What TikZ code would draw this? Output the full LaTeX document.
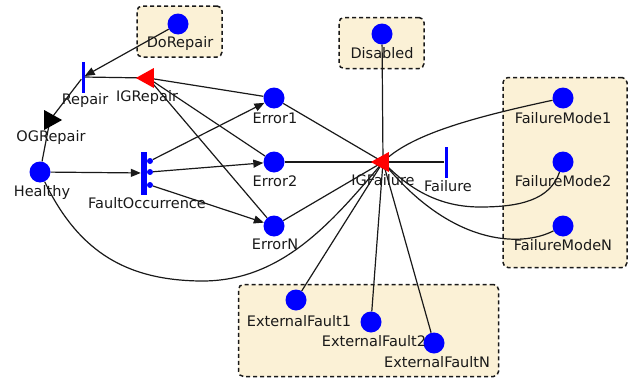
\documentclass[tikz,border=0pt]{standalone}
\usepackage{fontspec}
\setmainfont{DejaVu Sans}
\usetikzlibrary{shapes.geometric,arrows.meta}
\pgfdeclarelayer{boxes}
\pgfdeclarelayer{edges}
\pgfsetlayers{boxes,edges,main}
\definecolor{cream}{HTML}{FBF1D6}
\tikzset{
  place/.style={circle, fill=blue, inner sep=0pt, minimum size=21pt},
  dot/.style={circle, fill=blue, inner sep=0pt, minimum size=6pt},
  bar/.style={rectangle, fill=blue, inner sep=0pt, minimum width=3pt, minimum height=31pt},
  gate/.style={isosceles triangle, isosceles triangle stretches, inner sep=0pt, minimum width=20pt, minimum height=18pt},
  lbl/.style={inner sep=0pt, font=\fontsize{14.5}{16}\selectfont, text=black!90},
  grp/.style={draw=black!90, dash pattern=on 4pt off 3pt, line width=1.5pt, rounded corners=5pt, fill=cream, inner sep=0pt},
  edge/.style={draw=black!90, line width=1.2pt},
  arr/.style={edge, -{Triangle[length=10pt,width=8pt]}},
}
\begin{document}
\begin{tikzpicture}[x=1pt,y=-1pt]
\useasboundingbox (0,0) rectangle (632,380);
% groups
\begin{pgfonlayer}{boxes}
\node[grp, minimum width=85pt, minimum height=51pt] (DoRepairBox) at (179.5,31.5) {};
\node[grp, minimum width=85pt, minimum height=51pt] (DisabledBox) at (381.5,43) {};
\node[grp, minimum width=124pt, minimum height=190pt] (FMBox) at (565,172.5) {};
\node[grp, minimum width=260pt, minimum height=92pt] (EFBox) at (368.5,330.5) {};
\end{pgfonlayer}
% places
\node[place] (DoRepair) at (178,24) {};
\node[place] (Healthy) at (40,172) {};
\node[place] (Error1) at (274,98) {};
\node[place] (Error2) at (274,162) {};
\node[place] (ErrorN) at (274,226) {};
\node[place] (Disabled) at (382,34) {};
\node[place] (FM1) at (563,98) {};
\node[place] (FM2) at (563,162) {};
\node[place] (FMN) at (563,226) {};
\node[place] (EF1) at (296,300) {};
\node[place] (EF2) at (371,322) {};
\node[place] (EFN) at (434,343) {};
% transitions
\node[bar] (Repair) at (83,77) {};
\node[bar] (Failure) at (446,162) {};
\node[bar, minimum width=6pt, minimum height=43pt] (FaultOcc) at (144,173) {};
\node[dot] (d1) at (150,161) {};
\node[dot] (d2) at (150,172) {};
\node[dot] (d3) at (150,185) {};
% gates
\node[gate, fill=red, shape border rotate=180] (IGRepair) at (148,78) {};
\node[gate, fill=black, shape border rotate=0] (OGRepair) at (50,120) {};
\node[gate, fill=red, shape border rotate=180] (IGFailure) at (383,162) {};
% labels
\node[lbl] (DoRepair-l) at (180,43) {DoRepair};
\node[lbl] (Repair-l) at (85,100) {Repair};
\node[lbl] (IGRepair-l) at (147,97) {IGRepair};
\node[lbl] (OGRepair-l) at (51,137) {OGRepair};
\node[lbl] (Healthy-l) at (42,192) {Healthy};
\node[lbl] (FaultOcc-l) at (147,203) {FaultOccurrence};
\node[lbl] (Error1-l) at (275,118) {Error1};
\node[lbl] (Error2-l) at (275,181) {Error2};
\node[lbl] (ErrorN-l) at (275,244) {ErrorN};
\node[lbl] (Disabled-l) at (382,53) {Disabled};
\node[lbl] (IGFailure-l) at (383,180) {IGFailure};
\node[lbl] (Failure-l) at (448,186) {Failure};
\node[lbl] (FM1-l) at (563,118) {FailureMode1};
\node[lbl] (FM2-l) at (563,181) {FailureMode2};
\node[lbl] (FMN-l) at (563,245) {FailureModeN};
\node[lbl] (EF1-l) at (299,321) {ExternalFault1};
\node[lbl] (EF2-l) at (374,341) {ExternalFault2};
\node[lbl] (EFN-l) at (437,362) {ExternalFaultN};
% edges
\begin{pgfonlayer}{edges}
\draw[arr] (DoRepair) -- (Repair);
\draw[edge] (IGRepair.center) -- (Repair);
\draw[edge] (Healthy) -- (OGRepair.center) -- (Repair);
\draw[arr] (Healthy) -- (FaultOcc);
\draw[arr] (d1) -- (Error1);
\draw[arr] (d2) -- (Error2);
\draw[arr] (d3) -- (ErrorN);
\draw[edge] (IGRepair.center) -- (Error1);
\draw[edge] (IGRepair.center) -- (Error2);
\draw[edge] (IGRepair.center) -- (ErrorN);
\draw[edge] (Error1) -- (IGFailure.center);
\draw[edge] (Error2) -- (IGFailure.center);
\draw[edge] (ErrorN) -- (IGFailure.center);
\draw[edge] (Disabled) -- (IGFailure.center);
\draw[edge] (IGFailure.center) -- (Failure);
\draw[edge] (EF1) -- (IGFailure.center);
\draw[edge] (EF2) -- (IGFailure.center);
\draw[edge] (EFN) -- (IGFailure.center);
\draw[edge] (FM1) .. controls (470,118) and (410,135) .. (IGFailure.center);
\draw[edge] (FM2) .. controls (550,200) and (520,207) .. (480,207) .. controls (440,207) and (410,190) .. (IGFailure.center);
\draw[edge] (FMN) .. controls (520,248) and (450,245) .. (IGFailure.center);
\draw[edge] (Healthy) .. controls (80,255) and (130,280) .. (200,281) .. controls (280,282) and (330,225) .. (IGFailure.center);
\end{pgfonlayer}
\end{tikzpicture}
\end{document}
